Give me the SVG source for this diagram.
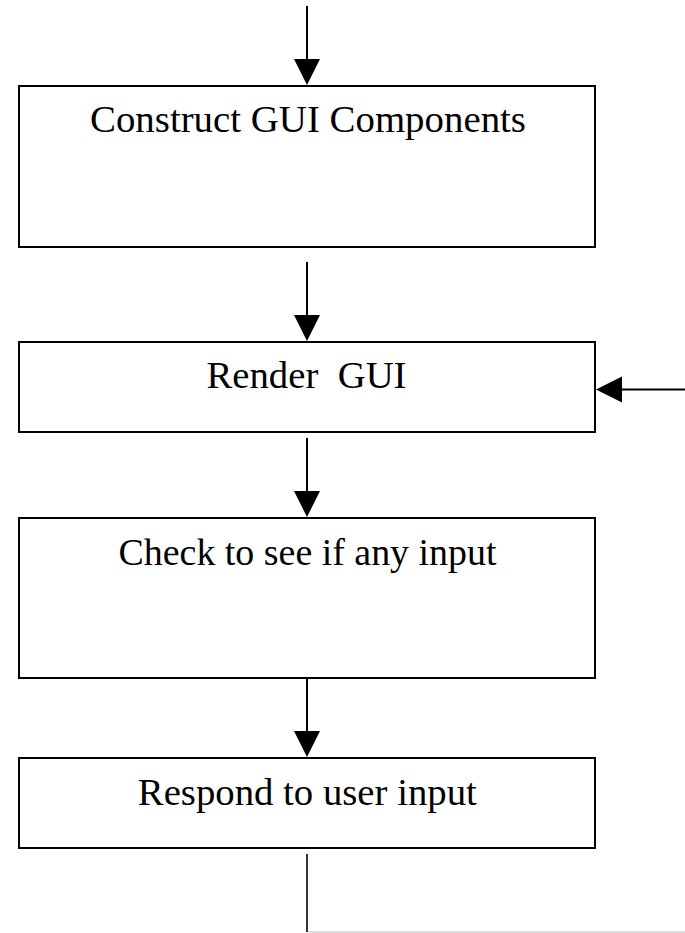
<svg xmlns="http://www.w3.org/2000/svg" width="685" height="933" viewBox="0 0 685 933">
<style>
.box{fill:#fff;stroke:#000;stroke-width:2}
.lbl{font-family:"Liberation Serif","Times New Roman",serif;font-size:38.5px;fill:#000;text-anchor:middle;white-space:pre}
.conn{stroke:#000;stroke-width:2;fill:none}
</style>
<defs>
<marker id="ah" markerUnits="userSpaceOnUse" markerWidth="26" markerHeight="26" refX="0" refY="13" orient="auto" overflow="visible">
<path d="M0,0 L26,13 L0,26 Z" fill="#000"/>
</marker>
</defs>
<rect width="685" height="933" fill="#fff"/>
<g id="connectors">
<line class="conn" x1="307" y1="6" x2="307" y2="59" marker-end="url(#ah)"/>
<line class="conn" x1="307" y1="262" x2="307" y2="315" marker-end="url(#ah)"/>
<line class="conn" x1="307" y1="438" x2="307" y2="491" marker-end="url(#ah)"/>
<line class="conn" x1="307" y1="679" x2="307" y2="731" marker-end="url(#ah)"/>
<line class="conn" x1="685" y1="389.5" x2="622" y2="389.5" marker-end="url(#ah)"/>
<line x1="307" y1="854" x2="307" y2="932" stroke="#000" stroke-width="1.6"/>
<line x1="308" y1="932" x2="685" y2="932" stroke="#bbb" stroke-width="1"/>
</g>
<g id="node-construct">
<rect class="box" x="19" y="86" width="576" height="161"/>
<text class="lbl" x="308" y="132" textLength="436" lengthAdjust="spacingAndGlyphs">Construct GUI Components</text>
</g>
<g id="node-render">
<rect class="box" x="19" y="342" width="576" height="90"/>
<text class="lbl" x="306.5" y="388" textLength="200" lengthAdjust="spacingAndGlyphs">Render  GUI</text>
</g>
<g id="node-check">
<rect class="box" x="19" y="518" width="576" height="160"/>
<text class="lbl" x="307.5" y="565" textLength="378" lengthAdjust="spacingAndGlyphs">Check to see if any input</text>
</g>
<g id="node-respond">
<rect class="box" x="19" y="758" width="576" height="90"/>
<text class="lbl" x="307.3" y="805" textLength="339" lengthAdjust="spacingAndGlyphs">Respond to user input</text>
</g>
</svg>
